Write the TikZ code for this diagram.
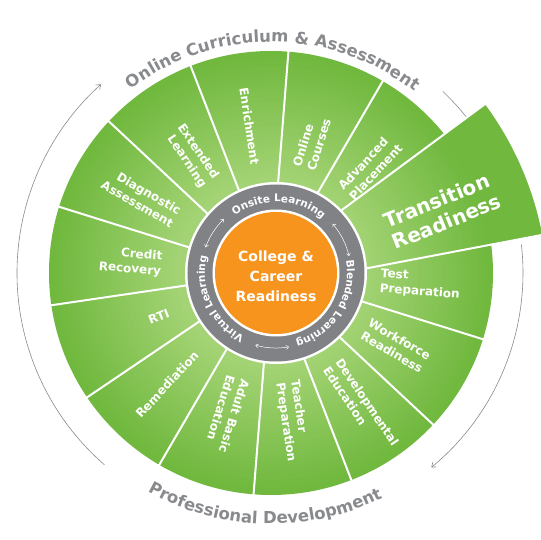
\documentclass[tikz,border=0pt]{standalone}
\usepackage{fontspec}
\setmainfont{DejaVu Sans}
\usetikzlibrary{arrows.meta,decorations.text,calc}
\definecolor{wheellight}{RGB}{163,211,116}
\definecolor{wheeldark}{RGB}{112,184,62}
\definecolor{ringgrey}{RGB}{128,130,134}
\definecolor{huborange}{RGB}{247,148,30}
\definecolor{textgrey}{RGB}{136,138,141}
\newcommand\ringfont{\color{white}\bfseries\fontsize{10.5}{12}\selectfont}
\newcommand\rimfont{\color{textgrey}\bfseries\fontsize{16.5}{18}\selectfont}
\tikzset{seglabel/.style={text=white,font=\bfseries\fontsize{12}{15}\selectfont,inner sep=0.5pt}}
\tikzset{bigseglabel/.style={text=white,font=\bfseries\fontsize{20}{23}\selectfont,inner sep=0.5pt}}
\tikzset{divider/.style={draw=white,line width=2pt}}
\tikzset{cyclearrow/.style={draw=textgrey,line width=0.6pt,-{Straight Barb[length=4pt,width=6pt]}}}
\tikzset{ringarrow/.style={draw=white,line width=0.5pt,{Straight Barb[length=2.5pt,width=4pt]}-{Straight Barb[length=2.5pt,width=4pt]}}}
\tikzset{trwedge/.style={insert path={(10.8:100pt) arc[start angle=10.8,end angle=36.5,radius=100pt] -- (36.5:322pt) arc[start angle=36.5,end angle=10.8,radius=322pt] -- cycle}}}

\begin{document}
\begin{tikzpicture}[x=1pt,y=1pt]
\useasboundingbox (-271,-267) rectangle (270,273);
\fill[white] (-271,-267) rectangle (270,273);

\coordinate (O) at (0,0);
\coordinate (I) at (5,0);
\coordinate (A) at (-44,-22);

% outer cycle arrows
\draw[cyclearrow] (229:254pt) arc[start angle=229,end angle=132,radius=254pt];
\draw[cyclearrow,-] (46.5:250pt) arc[start angle=46.5,end angle=38.5,radius=250pt];
\draw[cyclearrow] (6.5:252pt) arc[start angle=6.5,end angle=-50.5,radius=252pt];

% green wheel
\foreach \r in {222,219,...,87}{
  \pgfmathtruncatemacro\p{max(0,min(100,(\r-95)/1.25))}
  \fill[wheeldark!\p!wheellight] (O) circle[radius=\r pt];
}
\foreach \k in {0,...,13}
  \draw[divider] ({85.5+\k*25.714}:85pt) -- ({85.5+\k*25.714}:224pt);

% enlarged wedge
\begin{scope}[shift={(A)}]
  \begin{scope}
    \clip[trwedge];
    \foreach \r in {330,326,...,98}{
      \pgfmathtruncatemacro\p{max(0,min(100,(\r-95)/1.25))}
      \fill[wheeldark!\p!wheellight] (O) circle[radius=\r pt];
    }
  \end{scope}
  \draw[divider,trwedge];
\end{scope}

% hub
\fill[white] (I) circle[radius=91pt];
\fill[ringgrey] (I) circle[radius=88.5pt];
\fill[white] (I) circle[radius=63.5pt];
\node[circle,fill=huborange,minimum size=122pt,inner sep=0pt] (hub) at (I) {};
\node[text=white,font=\bfseries\fontsize{14}{20}\selectfont,align=center] (hubtext) at ($(I)+(0,-3)$) {College \&\\Career\\Readiness};

\begin{scope}[shift={(I)}]
  \path[decorate,decoration={text along path,text={|\ringfont|Onsite Learning},text align=center}]
    (130:71pt) arc[start angle=130,end angle=45,radius=71pt];
  \path[decorate,decoration={text along path,text={|\ringfont|Blended Learning},text align=center}]
    (13:71pt) arc[start angle=13,end angle=-77,radius=71pt];
  \path[decorate,decoration={text along path,text={|\ringfont|Virtual Learning},text align=center}]
    (250:71pt) arc[start angle=250,end angle=160,radius=71pt];
  \draw[ringarrow] (160:75pt) arc[start angle=160,end angle=134,radius=75pt];
  \draw[ringarrow] (41:75pt) arc[start angle=41,end angle=13,radius=75pt];
  \draw[ringarrow] (254:75pt) arc[start angle=254,end angle=280,radius=75pt];
\end{scope}

% segment labels
\foreach \ang/\txt/\flip [count=\i] in {98.36/Enrichment/1, 72.64/{Online\\Courses}/0,
    46.93/{Advanced\\Placement}/0, -4.5/{Test\\Preparation}/0, -30.2/{Workforce\\Readiness}/0,
    -55.9/{Developmental\\Education}/0, -81.6/{Teacher\\Preparation}/0, -107.3/{Adult Basic\\Education}/0,
    -133.0/Remediation/1, -158.8/RTI/1, 175.5/{Credit\\Recovery}/1,
    149.8/{Diagnostic\\Assessment}/1, 124.1/{Extended\\Learning}/1}{
  \ifnum\flip=1 \def\anc{east}\def\al{right}\else \def\anc{west}\def\al{left}\fi
  \node[seglabel,anchor=\anc,align=\al,rotate=\ang+180*\flip] (seg\i) at (\ang:109pt) {\txt};
}
\node[bigseglabel,anchor=west,align=left,rotate=22] (transition) at (19:124pt) {Transition\\Readiness};

% rim texts
\path[decorate,decoration={text along path,text={|\rimfont|Online Curriculum {\&} Assessment},text align=center}]
  (129:231pt) arc[start angle=129,end angle=50,radius=231pt];
\path[decorate,decoration={text along path,text={|\rimfont|Professional Development},text align=center}]
  (240:251pt) arc[start angle=240,end angle=297,radius=251pt];
\end{tikzpicture}
\end{document}
